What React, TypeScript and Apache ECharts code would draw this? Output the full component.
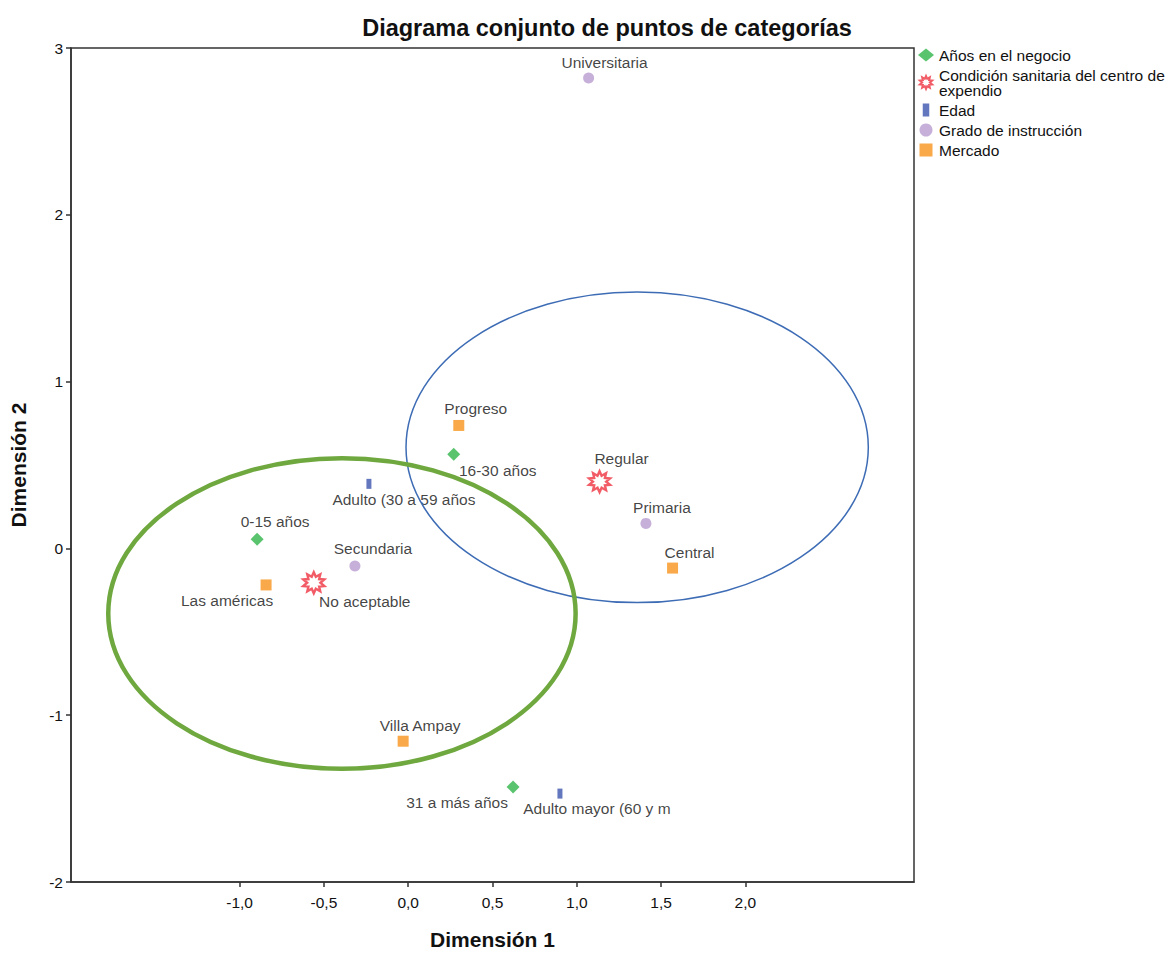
import React, { useEffect, useRef } from "react";
import * as echarts from "echarts";

// ---- Data (Dimensión 1, Dimensión 2) ----
const aniosNames = ["0-15 años", "16-30 años", "31 a más años"];
const aniosX = [-0.896, 0.27, 0.622];
const aniosY = [0.055, 0.565, -1.43];

const condNames = ["Regular", "No aceptable"];
const condX = [1.135, -0.56];
const condY = [0.4, -0.206];

const edadNames = ["Adulto (30 a 59 años", "Adulto mayor (60 y m"];
const edadX = [-0.233, 0.9];
const edadY = [0.387, -1.47];

const gradoNames = ["Universitaria", "Primaria", "Secundaria"];
const gradoX = [1.07, 1.41, -0.316];
const gradoY = [2.82, 0.15, -0.105];

const mercadoNames = ["Progreso", "Central", "Las américas", "Villa Ampay"];
const mercadoX = [0.3, 1.568, -0.843, -0.03];
const mercadoY = [0.737, -0.118, -0.219, -1.156];

const xTickLabels = [-1, -0.5, 0, 0.5, 1, 1.5, 2];

// ellipses in data units: [cx, cy, rx, ry]
const blueEllipse = [1.358, 0.606, 1.371, 0.931];
const greenEllipse = [-0.393, -0.39, 1.386, 0.931];

// ---- label offsets (pixels, label center relative to point) ----
const labelOffsets: Record<string, [number, number]> = {
  "0-15 años": [18, -18],
  "16-30 años": [44, 16],
  "31 a más años": [-56, 16],
  Regular: [22, -23],
  "No aceptable": [51, 19],
  "Adulto (30 a 59 años": [35, 16],
  "Adulto mayor (60 y m": [37, 15],
  Universitaria: [16, -16],
  Primaria: [16, -16],
  Secundaria: [18, -17],
  Progreso: [17, -17],
  Central: [17, -16],
  "Las américas": [-39, 16],
  "Villa Ampay": [17, -16],
};

const FONT = "Liberation Sans, Arial, sans-serif";
const FS = 15.5;
const TXT = "#111";

const starPath = (() => {
  const n = 10;
  const parts: string[] = [];
  for (let i = 0; i < 2 * n; i++) {
    const a = -Math.PI / 2 + (i * Math.PI) / n;
    const r = i % 2 === 0 ? 1 : 0.6;
    const x = (Math.cos(a) * r * 50 + 50).toFixed(2);
    const y = (Math.sin(a) * r * 50 + 50).toFixed(2);
    parts.push((i === 0 ? "M" : "L") + x + " " + y);
  }
  return "path://" + parts.join(" ") + " Z";
})();

function buildData(names: string[], xs: number[], ys: number[]) {
  return names.map((n, i) => ({
    name: n,
    value: [xs[i], ys[i]],
    label: {
      show: true,
      formatter: n,
      position: "inside",
      align: "center",
      verticalAlign: "middle",
      offset: labelOffsets[n] || [0, -16],
      color: TXT,
      fontFamily: FONT,
      fontSize: FS,
    },
  }));
}

export default function App() {
  const ref = useRef<HTMLDivElement>(null);
  useEffect(() => {
    if (!ref.current) return;
    const chart = echarts.init(ref.current, undefined, { renderer: "svg" });
    chart.setOption({
      animation: false,
      backgroundColor: "#fff",
      title: {
        text: "Diagrama conjunto de puntos de categorías",
        left: 602,
        textAlign: "center",
        top: 11,
        textStyle: { fontFamily: FONT, fontSize: 23.5, fontWeight: "bold", color: TXT },
      },
      legend: {
        orient: "vertical",
        left: 918,
        top: 47,
        padding: 0,
        itemWidth: 16,
        itemHeight: 13,
        itemGap: 4,
        textStyle: { fontFamily: FONT, fontSize: FS, color: TXT, lineHeight: 15 },
        data: [
          { name: "Años en el negocio", icon: "diamond" },
          { name: "Condición sanitaria del centro de\nexpendio", icon: starPath },
          { name: "Edad", icon: "path://M0 0 L5 0 L5 10 L0 10 Z" },
          { name: "Grado de instrucción", icon: "circle" },
          { name: "Mercado", icon: "path://M0 0 L10 0 L10 10 L0 10 Z" },
        ],
      },
      grid: {
        left: 70,
        top: 48,
        width: 844,
        height: 843,
        show: true,
        borderColor: "#333",
        borderWidth: 1.5,
        backgroundColor: "transparent",
      },
      xAxis: {
        type: "value",
        min: -2,
        max: 3,
        interval: 0.5,
        name: "Dimensión 1",
        nameLocation: "middle",
        nameGap: 47,
        nameTextStyle: { fontFamily: FONT, fontSize: 21, fontWeight: "bold", color: TXT },
        axisLine: { show: true, onZero: false, lineStyle: { color: "#333", width: 1.5 } },
        axisTick: { show: true, customValues: xTickLabels, length: 5, lineStyle: { color: "#333", width: 1.5 } },
        axisLabel: {
          customValues: xTickLabels,
          formatter: (v: number) => v.toFixed(1).replace(".", ","),
          fontFamily: FONT,
          fontSize: FS,
          color: TXT,
          margin: 12,
        },
        splitLine: { show: false },
      },
      yAxis: {
        type: "value",
        min: -2,
        max: 3,
        interval: 1,
        name: "Dimensión 2",
        nameLocation: "middle",
        nameGap: 42,
        nameTextStyle: { fontFamily: FONT, fontSize: 21, fontWeight: "bold", color: TXT },
        axisLine: { show: true, onZero: false, lineStyle: { color: "#333", width: 1.5 } },
        axisTick: { show: true, length: 5, lineStyle: { color: "#333", width: 1.5 } },
        axisLabel: { fontFamily: FONT, fontSize: FS, color: TXT, margin: 8 },
        splitLine: { show: false },
      },
      series: [
        {
          name: "Años en el negocio",
          type: "scatter",
          symbol: "diamond",
          symbolSize: 13,
          itemStyle: { color: "#2fb44a" },
          data: buildData(aniosNames, aniosX, aniosY),
          z: 3,
        },
        {
          name: "Condición sanitaria del centro de\nexpendio",
          type: "scatter",
          symbol: starPath,
          symbolSize: 21,
          itemStyle: { color: "#fff", borderColor: "#ee3340", borderWidth: 2.4 },
          data: buildData(condNames, condX, condY),
          z: 3,
        },
        {
          name: "Edad",
          type: "scatter",
          symbol: "rect",
          symbolSize: [5, 10],
          itemStyle: { color: "#3b55ad" },
          data: buildData(edadNames, edadX, edadY),
          z: 3,
        },
        {
          name: "Grado de instrucción",
          type: "scatter",
          symbol: "circle",
          symbolSize: 11,
          itemStyle: { color: "#b89bd0" },
          data: buildData(gradoNames, gradoX, gradoY),
          z: 3,
        },
        {
          name: "Mercado",
          type: "scatter",
          symbol: "rect",
          symbolSize: 11,
          itemStyle: { color: "#f7941d" },
          data: buildData(mercadoNames, mercadoX, mercadoY),
          z: 3,
        },
      ],
    });

    const toEllipse = (e: number[], color: string, lw: number) => {
      const c = chart.convertToPixel({ gridIndex: 0 }, [e[0], e[1]]) as number[];
      const px = chart.convertToPixel({ gridIndex: 0 }, [e[0] + e[2], e[1] + e[3]]) as number[];
      return {
        type: "ellipse",
        shape: { cx: c[0], cy: c[1], rx: Math.abs(px[0] - c[0]), ry: Math.abs(px[1] - c[1]) },
        style: { fill: "none", stroke: color, lineWidth: lw },
        z: 10,
        silent: true,
      };
    };
    chart.setOption({
      graphic: [toEllipse(blueEllipse, "#3d6cb5", 1.5), toEllipse(greenEllipse, "#6ea83e", 4.5)],
    });
    return () => chart.dispose();
  }, []);
  return (
    <div
      ref={ref}
      style={{ position: "fixed", left: 0, top: 0, width: 1174, height: 955, background: "#fff" }}
    />
  );
}
